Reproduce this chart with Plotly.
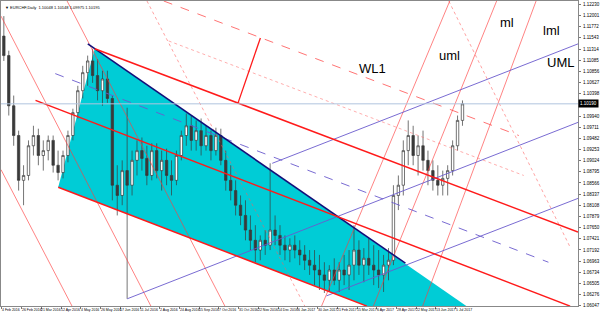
import plotly.graph_objects as go

# ---------------- data ----------------
opens = [1.1158, 1.1118, 1.1015, 1.0954, 1.0862, 1.0872, 1.0933, 1.0954, 1.0913, 1.0923,
         1.0944, 1.0893, 1.0878, 1.0913, 1.0954, 1.1001, 1.1046, 1.1083, 1.1107, 1.1077,
         1.1046, 1.1070, 1.1030, 1.0852, 1.0831, 1.0882, 1.0852, 1.0903, 1.0923, 1.0907,
         1.0872, 1.0923, 1.0882, 1.0903, 1.0872, 1.0862, 1.0913, 1.0954, 1.0974, 1.0944,
         1.0964, 1.0933, 1.0954, 1.0923, 1.0954, 1.0903, 1.0862, 1.0841, 1.0811, 1.0790,
         1.0760, 1.0739, 1.0719, 1.0739, 1.0729, 1.0760, 1.0749, 1.0729, 1.0719, 1.0729,
         1.0719, 1.0709, 1.0698, 1.0688, 1.0678, 1.0668, 1.0657, 1.0678, 1.0657, 1.0678,
         1.0668, 1.0688, 1.0719, 1.0688, 1.0702, 1.0688, 1.0678, 1.0668, 1.0688, 1.0698,
         1.0831, 1.0852, 1.0923, 1.0954, 1.0913, 1.0933, 1.0903, 1.0882, 1.0862, 1.0852,
         1.0866, 1.0882, 1.0933, 1.0985]
highs = [1.1199, 1.1128, 1.1036, 1.0964, 1.0893, 1.0944, 1.0974, 1.0968, 1.0944, 1.0954,
         1.0954, 1.0923, 1.0923, 1.0964, 1.1009, 1.1056, 1.1097, 1.1118, 1.1132, 1.1111,
         1.1087, 1.1087, 1.1036, 1.0893, 1.0903, 1.1011, 1.0923, 1.0944, 1.0950, 1.0933,
         1.0938, 1.0938, 1.0923, 1.0927, 1.0903, 1.0923, 1.0964, 1.0999, 1.0995, 1.0985,
         1.0989, 1.0974, 1.0964, 1.0970, 1.0968, 1.0923, 1.0893, 1.0862, 1.0831, 1.0821,
         1.0790, 1.0770, 1.0749, 1.0760, 1.0897, 1.0790, 1.0770, 1.0749, 1.0743, 1.0749,
         1.0739, 1.0729, 1.0719, 1.0719, 1.0709, 1.0694, 1.0688, 1.0702, 1.0694, 1.0709,
         1.0719, 1.0770, 1.0739, 1.0723, 1.0743, 1.0729, 1.0719, 1.0709, 1.0723, 1.0852,
         1.0872, 1.0944, 1.0985, 1.0974, 1.0954, 1.0964, 1.0923, 1.0903, 1.0893, 1.0882,
         1.0893, 1.0944, 1.0995, 1.1026]
lows = [1.1107, 1.0995, 1.0933, 1.0841, 1.0811, 1.0862, 1.0913, 1.0893, 1.0882, 1.0903,
        1.0878, 1.0862, 1.0866, 1.0899, 1.0944, 1.0989, 1.1030, 1.1056, 1.1062, 1.1026,
        1.1015, 1.1021, 1.0821, 1.0790, 1.0811, 1.0619, 1.0831, 1.0872, 1.0882, 1.0852,
        1.0862, 1.0866, 1.0841, 1.0852, 1.0831, 1.0852, 1.0903, 1.0933, 1.0923, 1.0923,
        1.0913, 1.0923, 1.0903, 1.0913, 1.0893, 1.0841, 1.0821, 1.0790, 1.0770, 1.0739,
        1.0719, 1.0694, 1.0698, 1.0709, 1.0719, 1.0729, 1.0709, 1.0698, 1.0694, 1.0702,
        1.0688, 1.0678, 1.0668, 1.0647, 1.0637, 1.0631, 1.0633, 1.0647, 1.0633, 1.0647,
        1.0637, 1.0657, 1.0668, 1.0653, 1.0668, 1.0647, 1.0641, 1.0633, 1.0657, 1.0688,
        1.0801, 1.0831, 1.0893, 1.0893, 1.0872, 1.0882, 1.0852, 1.0841, 1.0831, 1.0831,
        1.0831, 1.0872, 1.0923, 1.0974]
last_close = 1.1019
closes = opens[1:] + [last_close]
bars_per_candle = 4

date_labels = ["4 Feb 2016", "26 Feb 2016", "21 Mar 2016", "12 Apr 2016", "4 May 2016",
               "26 May 2016", "17 Jun 2016", "11 Jul 2016", "2 Aug 2016", "24 Aug 2016",
               "15 Sep 2016", "7 Oct 2016", "31 Oct 2016", "22 Nov 2016", "14 Dec 2016",
               "6 Jan 2017", "30 Jan 2017", "21 Feb 2017", "15 Mar 2017", "6 Apr 2017",
               "28 Apr 2017", "22 May 2017", "13 Jun 2017", "5 Jul 2017"]
bars_per_label = 16
price_ticks = [1.12230, 1.12001, 1.11772, 1.11543, 1.11314, 1.11085, 1.10856, 1.10627,
               1.10398, 1.10169, 1.09940, 1.09711, 1.09482, 1.09253, 1.09024, 1.08795,
               1.08566, 1.08337, 1.08108, 1.07879, 1.07650, 1.07421, 1.07192, 1.06963,
               1.06734, 1.06505, 1.06276, 1.06047]
header = "▼ EURCHF,Daily  1.10048 1.10148 1.09975 1.10195"

# drawn objects: (bar index, price) anchor points
triangle_bar = [45.6, 75.2, 478.4]
triangle_price = [1.0848, 1.1132, 1.0426]
navy_bar = [69.6, 327.2]
navy_price = [1.1142, 1.0692]
red_upper_bar = [75.2, 467.2];  red_upper_price = [1.1132, 1.0756]
red_median_bar = [27.2, 460.8]; red_median_price = [1.1026, 1.0604]
red_lower_bar = [45.6, 296.0];  red_lower_price = [1.0848, 1.0604]
red_wl_bar = [191.2, 209.6];    red_wl_price = [1.1019, 1.1154]
wl1_bar = [131.2, 419.2];       wl1_price = [1.1230, 1.0954]
wl2_bar = [135.2, 423.2];       wl2_price = [1.1148, 1.0872]
blue_median_dash_bar = [43.2, 443.2]; blue_median_dash_price = [1.1081, 1.0694]
blue_upper_bar = [219.2, 467.2]; blue_upper_price = [1.0897, 1.1142]
blue_mid_bar = [101.6, 467.2];   blue_mid_price = [1.0619, 1.0981]
blue_lower_bar = [263.2, 467.2]; blue_lower_price = [1.0625, 1.0825]
thin_red_down = [([-0.8, 120.8], [1.1199, 1.0604]),
                 ([-0.8, 56.8], [1.0884, 1.0604]),
                 ([52.8, 180.8], [1.1230, 1.0604])]
dotted_red_down = [([117.6, 245.6], [1.1230, 1.0604]),
                   ([362.4, 460.8], [1.1230, 1.0725])]
thin_red_up = [([259.2, 363.2], [1.0604, 1.1230]),
               ([301.2, 401.2], [1.0604, 1.1230]),
               ([341.2, 433.2], [1.0604, 1.1230])]
labels = [("WL1", 288.0, 1.1091), ("uml", 353.0, 1.1118), ("ml", 402.0, 1.1185),
          ("lml", 437.0, 1.1169), ("UML", 440.8, 1.1103)]

# ---------------- figure ----------------
fig = go.Figure()

tri_path = "M " + " L ".join(f"{b},{p}" for b, p in zip(triangle_bar, triangle_price)) + " Z"
fig.add_shape(type="path", path=tri_path, xref="x", yref="y", layer="below",
              fillcolor="#00CCD6", line=dict(width=0))

def line(xs, ys, color, width=1.0, dash="solid"):
    fig.add_trace(go.Scatter(x=xs, y=ys, mode="lines", hoverinfo="skip",
                             line=dict(color=color, width=width, dash=dash)))

for xs, ys in thin_red_down:
    line(xs, ys, "rgba(255,60,60,0.8)", 0.8)
for xs, ys in dotted_red_down:
    line(xs, ys, "rgba(255,90,90,0.7)", 0.8, "dot")
for xs, ys in thin_red_up:
    line(xs, ys, "rgba(255,60,60,0.8)", 0.8)
line(wl1_bar, wl1_price, "rgba(255,60,60,0.9)", 0.8, "dash")
line(wl2_bar, wl2_price, "rgba(255,110,110,0.7)", 0.8, "dot")
line(blue_median_dash_bar, blue_median_dash_price, "#6A5ACD", 0.9, "dash")
line(blue_upper_bar, blue_upper_price, "#6A5ACD", 0.9)
line(blue_mid_bar, blue_mid_price, "#6A5ACD", 0.9)
line(blue_lower_bar, blue_lower_price, "#6A5ACD", 0.9)

candle_x = [bars_per_candle * i + 1.5 for i in range(len(opens))]
fig.add_trace(go.Candlestick(x=candle_x, open=opens, high=highs, low=lows, close=closes,
                             increasing=dict(line=dict(color="#3a3a3a", width=0.7), fillcolor="white"),
                             decreasing=dict(line=dict(color="#3a3a3a", width=0.7), fillcolor="#3a3a3a"),
                             whiskerwidth=0, hoverinfo="skip"))

line(navy_bar, navy_price, "#10107A", 1.6)
line(red_upper_bar, red_upper_price, "#FF1A1A", 1.5)
line(red_median_bar, red_median_price, "#FF1A1A", 1.5)
line(red_lower_bar, red_lower_price, "#FF1A1A", 1.5)
line(red_wl_bar, red_wl_price, "#FF1A1A", 1.3)

fig.add_hline(y=last_close, line=dict(color="#B0C4DE", width=1))

for txt, bx, py in labels:
    fig.add_annotation(x=bx, y=py, text=txt, showarrow=False, xanchor="left",
                       font=dict(family="Liberation Sans, Arial", size=13, color="black"))

small_font = dict(family="Liberation Sans, Arial", size=3.5, color="black")
date_ticks = [bars_per_label * i for i in range(len(date_labels))]
for tv, tt in zip(date_ticks, date_labels):
    fig.add_annotation(x=tv, xref="x", yref="paper", y=0, yanchor="top", xanchor="left",
                       yshift=-1, xshift=-1, text=tt, showarrow=False, font=small_font,
                       borderpad=0)

fig.add_annotation(xref="paper", yref="paper", x=0.004, y=0.995, xanchor="left", yanchor="top",
                   text=header, showarrow=False,
                   font=dict(family="Liberation Sans, Arial", size=4, color="black"))
fig.add_annotation(xref="paper", x=1.0, y=last_close, xanchor="left", yanchor="middle",
                   text=f"{last_close:.5f}", showarrow=False, bgcolor="black",
                   font=dict(family="Liberation Sans, Arial", size=4.5, color="white"), borderpad=1)

# the price box covers the axis label that sits under it
price_text = ["" if abs(v - last_close) < 0.0006 else f"{v:.5f}" for v in price_ticks]

fig.update_layout(
    width=600, height=314, margin=dict(l=0, r=15, t=0, b=8),
    paper_bgcolor="white", plot_bgcolor="white", showlegend=False,
    xaxis=dict(range=[-0.8, 467.2], tickvals=date_ticks, showticklabels=False,
               ticks="outside", ticklen=2, tickcolor="#777", showgrid=False, zeroline=False,
               showline=True, linecolor="#888", mirror=True, rangeslider=dict(visible=False)),
    yaxis=dict(range=[1.06042, 1.1230], side="right", tickvals=price_ticks,
               ticktext=price_text,
               tickfont=dict(family="Liberation Sans, Arial", size=4.5, color="black"),
               ticks="outside", ticklen=2, tickcolor="#777", showgrid=False, zeroline=False,
               showline=True, linecolor="#888", mirror=True, ticklabelstandoff=1),
)

fig.write_html("out.html")
